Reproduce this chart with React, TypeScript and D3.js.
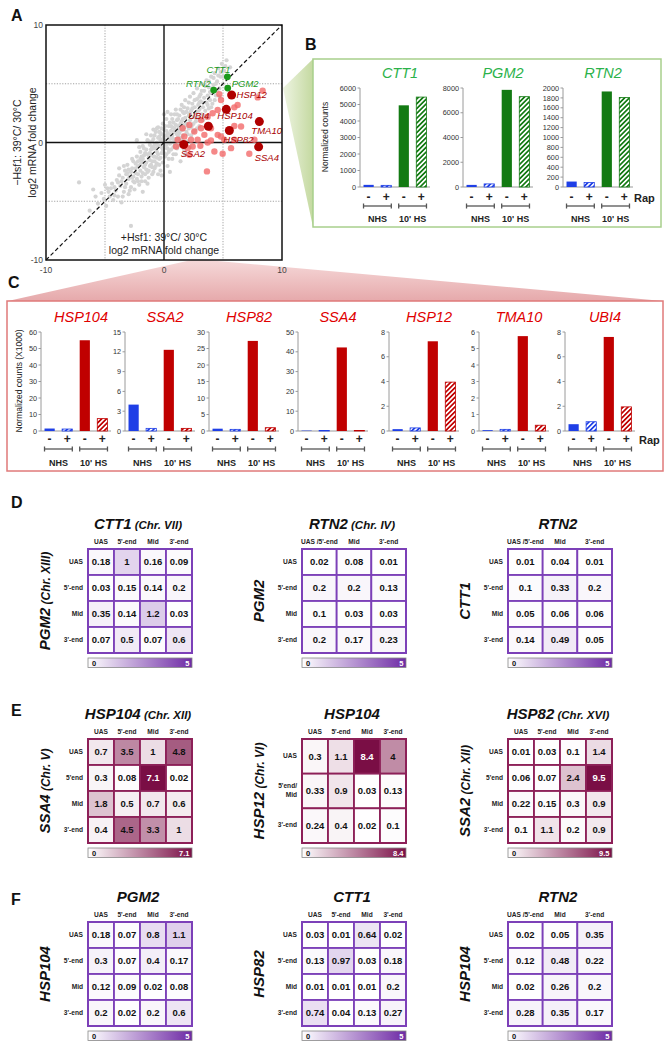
import React from 'react';
import * as d3 from 'd3';

const FONT = 'Arial, "Liberation Sans", Helvetica, sans-serif';

// ---------- Panel A data (log2 fold change: x = +Hsf1, y = -Hsf1) ----------
const grayGenes: [number, number][] = [
  [-7.2,-3.4],[-2.8,-7.1],[-5.1,-4.8],[-5.6,-5.2],[-5.3,-4.3],[-4.9,-5.4],[-4.8,-3.9],[-4.6,-4.6],[-4.4,-3.5],[-4.3,-4.9],
  [-4.1,-4.1],[-4.0,-3.2],[-3.9,-4.6],[-3.8,-2.8],[-3.7,-3.7],[-3.6,-5.1],[-3.5,-3.0],[-3.4,-4.2],[-3.3,-2.4],[-3.2,-3.5],
  [-3.1,-1.9],[-3.0,-4.4],[-2.9,-2.9],[-2.8,-3.8],[-2.7,-2.2],[-2.6,-3.3],[-2.6,-1.6],[-2.5,-4.0],[-2.4,-2.6],[-2.3,-3.1],
  [-2.3,-1.2],[-2.2,-2.0],[-2.1,-3.6],[-2.0,-2.4],[-2.0,-0.8],[-1.9,-1.6],[-1.9,-2.9],[-1.8,-4.2],[-1.8,-0.3],[-1.7,-2.1],
  [-1.7,-1.1],[-1.6,-3.3],[-1.5,-1.7],[-1.5,-0.6],[-1.4,-2.5],[-1.4,0.2],[-1.3,-1.3],[-1.3,-3.0],[-1.2,-0.2],[-1.2,-2.0],
  [-1.1,0.6],[-1.1,-1.0],[-1.0,-2.7],[-1.0,-1.6],[-0.9,-0.5],[-0.9,0.3],[-0.8,-2.2],[-0.8,-1.2],[-0.7,0.9],[-0.7,-0.1],
  [-0.6,-1.8],[-0.6,-0.8],[-0.5,0.4],[-0.5,1.3],[-0.4,-1.4],[-0.4,-0.3],[-0.3,-2.4],[-0.3,0.8],[-0.2,-0.9],[-0.2,0.1],
  [-0.1,1.6],[-0.1,-1.7],[0.0,-0.5],[0.0,0.5],[0.0,1.1],[0.1,-1.2],[0.1,0.2],[0.2,-0.2],[0.2,2.0],[0.3,0.8],
  [0.3,-2.0],[0.4,1.4],[0.4,-0.8],[0.5,0.3],[0.5,-0.1],[0.6,1.0],[0.6,2.4],[0.7,-1.4],[0.7,0.6],[0.8,1.7],
  [0.8,-0.4],[0.9,0.2],[0.9,1.2],[1.0,2.8],[1.0,-1.0],[1.1,0.7],[1.1,1.9],[1.2,-0.3],[1.2,1.4],[1.3,2.3],
  [1.3,0.3],[1.4,-1.6],[1.4,1.0],[1.5,3.2],[1.5,1.8],[1.6,0.6],[1.6,2.6],[1.7,-0.6],[1.7,1.3],[1.8,2.1],
  [1.8,3.6],[1.9,0.9],[1.9,1.6],[2.0,2.9],[2.0,0.1],[2.1,2.3],[2.1,1.2],[2.2,3.9],[2.2,1.9],[2.3,0.6],
  [2.3,2.7],[2.4,3.3],[2.4,1.5],[2.5,2.2],[2.5,4.2],[2.6,1.0],[2.6,3.0],[2.7,2.5],[2.7,1.8],[2.8,3.7],
  [2.8,4.6],[2.9,2.1],[2.9,3.2],[3.0,1.4],[3.0,2.8],[3.1,4.1],[3.1,3.5],[3.2,2.4],[3.2,5.0],[3.3,3.0],
  [3.3,1.9],[3.4,3.8],[3.4,4.4],[3.5,2.7],[3.6,3.4],[3.6,5.3],[3.7,4.0],[3.8,2.9],[3.8,4.7],[3.9,3.6],
  [4.0,5.6],[4.0,4.2],[4.1,3.3],[4.2,4.9],[4.3,5.9],[4.4,4.0],[4.5,5.2],[4.6,6.3],[4.7,4.6],[4.8,5.6],
  [4.9,6.7],[5.0,5.0],[5.1,6.1],[5.3,7.0],[5.4,5.6],[5.6,6.4],
  [-1.6,-0.9],[-1.0,-0.4],[-0.6,0.0],[-0.2,-0.4],[0.2,0.6],[0.6,0.4],[1.0,0.9],[1.4,1.6],[-2.4,-1.8],[-2.8,-2.5],
  [-1.9,-1.2],[-0.8,-1.6],[-0.4,0.5],[0.3,-0.5],[0.8,0.9],[1.2,0.5],[-3.2,-2.7],[-3.6,-3.3],[-1.2,-1.5],[-0.5,-1.0],
  [0.1,1.4],[-0.9,-2.5],[-0.3,-1.3],[1.6,1.1],[2.0,1.5],[0.4,0.0],[-1.5,-2.3],[-2.2,-2.7],[-1.3,0.1],[-0.1,0.3],
  [0.7,1.3],[-2.0,-1.4],[-1.1,-1.9],[-0.7,-0.5],[0.0,-0.9],[0.5,0.7],[0.9,-0.1],[1.3,1.2],[1.7,2.5],[-2.6,-2.9],
  [-3.0,-3.1],[-4.2,-3.8],[-1.8,-2.6],[-0.2,0.7],[0.6,-0.6],[1.1,2.4],[2.5,1.6],[3.0,3.4],[-6.3,-5.8],[-5.8,-4.6],
  [-3.4,-2.0],[-3.0,-2.3],[-2.7,-1.4],[-2.5,-3.4],[-2.2,-1.6],[-2.1,-0.4],[-1.9,-3.3],[-1.7,-0.5],[-1.6,-2.7],[-1.4,-1.0],
  [-1.3,-2.4],[-1.1,-0.6],[-1.0,0.1],[-0.9,-1.2],[-0.8,0.6],[-0.7,-2.0],[-0.6,1.2],[-0.5,-0.3],[-0.4,-1.9],[-0.3,0.2],
  [-0.2,1.2],[-0.1,-0.6],[0.0,2.4],[0.1,-0.2],[0.2,1.0],[0.3,2.6],[0.4,-1.4],[0.5,1.7],[0.6,0.0],[0.7,2.0],
  [0.8,0.3],[0.9,2.4],[1.0,1.5],[1.1,-0.5],[1.2,2.0],[1.3,0.8],[1.4,2.8],[1.5,0.3],[1.6,2.0],[1.7,3.0],
  [1.8,1.4],[1.9,2.6],[2.0,0.7],[2.1,3.4],[2.2,2.5],[2.3,1.3],[2.4,2.9],[2.5,0.9],[2.6,3.6],[2.7,2.1],
  [2.8,1.2],[2.9,2.7],[3.0,3.9],[3.1,2.0],[3.2,4.4],[3.3,3.4],[3.4,2.3],[3.5,4.8],[3.6,2.1],[3.7,3.2],
  [3.8,5.2],[3.9,4.3],[4.0,3.0],[4.1,4.6],[4.2,5.5],[4.3,3.6],[4.4,5.0],[4.5,4.4],[4.6,5.7],[4.7,3.9],
  [4.8,6.0],[5.0,5.6],[5.2,6.5],[-4.5,-3.9],[-4.2,-4.5],[-3.9,-3.4],[-3.5,-4.6],[-3.3,-3.8],[-3.1,-2.6],[-2.9,-4.1],
  [-2.7,-3.0],[-2.4,-2.2],[-2.2,-3.3],[-2.0,-1.9],[-1.8,-1.4],[-1.6,-1.9],[-1.4,-3.5],[-1.2,-0.9],[-1.0,-2.1],[-0.8,-0.2],
  [-0.6,-1.3],[-0.4,0.9],[-0.2,-2.8],[0.0,0.0],[0.2,-1.0],[0.4,0.4],[0.6,1.4],[0.8,-1.0],[1.0,0.3],[1.2,1.0],
  [1.4,0.4],[1.6,1.5],[-5.0,-3.6],[-4.7,-4.2],[-6.0,-4.0],[-3.8,-2.2],[-1.5,0.7],[-0.9,1.1],[-2.3,0.2],[1.8,-1.0],
  [2.2,-0.4],[0.5,-2.5],[-0.5,-2.7]
];
const pinkGenes: [number, number][] = [
  [8.36,4.41],[7.94,3.84],[6.24,3.19],[5.96,2.99],[4.69,4.12],[4.83,3.62],[4.55,2.77],[4.12,2.49],[3.70,2.20],[1.58,1.21],
  [2.15,1.50],[2.57,0.93],[3.14,1.21],[3.42,0.65],[2.85,0.23],[2.29,0.23],[1.72,0.51],[1.16,0.23],[1.02,-0.34],[2.01,-0.48],
  [2.43,-0.34],[2.15,-1.05],[3.08,-0.28],[3.70,0.0],[3.98,0.17],[4.55,0.65],[4.83,0.51],[5.11,0.23],[5.96,0.23],[7.66,0.23],
  [7.23,-0.96],[4.97,-0.96],[3.64,-2.46],[5.68,-0.48],[4.27,-0.76],[5.96,1.41],[6.53,1.36],[3.14,1.92],[3.98,1.21]
];
const hsfNames = ['HSP12', 'HSP104', 'UBI4', 'HSP82', 'TMA10', 'SSA4', 'SSA2'];
const hsfX = [5.73, 5.28, 3.76, 5.54, 8.08, 8.02, 1.67];
const hsfY = [4.04, 2.82, 1.38, 1.02, 1.78, -0.37, -0.17];
const msnNames = ['CTT1', 'PGM2', 'RTN2'];
const msnX = [5.37, 5.40, 4.21];
const msnY = [5.59, 4.63, 4.46];
const axisTicksA = [-10, 0, 10];
const gridTicksA = [-5, 5];

// label placement (layout only)
const labelLayout: Record<string, [number, number, string]> = {
  CTT1: [3, -4, 'end'], RTN2: [-3, -3, 'end'], PGM2: [4, -1, 'start'],
  HSP12: [5, 3, 'start'], HSP104: [-9, 10, 'start'], UBI4: [1, -7, 'end'],
  TMA10: [-8, 12, 'start'], HSP82: [-6, 12, 'start'], SSA2: [-3, 13, 'start'], SSA4: [-4, 14, 'start'],
};

// ---------- Panel B data ----------
const conditionKeys = ['NHS-', 'NHS+', 'HS-', 'HS+'];
const signLabels = ['-', '+', '-', '+'];
const bGenes = ['CTT1', 'PGM2', 'RTN2'];
const bValues = [[130, 100, 4950, 5450], [170, 250, 7850, 7300], [110, 90, 1930, 1810]];
const bMax = [6000, 8000, 2000];
const bStep = [1000, 2000, 200];

// ---------- Panel C data (x1000) ----------
const cGenes = ['HSP104', 'SSA2', 'HSP82', 'SSA4', 'HSP12', 'TMA10', 'UBI4'];
const cValues = [
  [1.5, 1.2, 55, 7.5], [4.0, 0.4, 12.3, 0.4], [0.7, 0.5, 27.3, 1.0], [0.2, 0.3, 42.2, 0.3],
  [0.15, 0.25, 7.25, 3.95], [0.05, 0.1, 5.75, 0.35], [0.55, 0.75, 7.6, 1.95],
];
const cMax = [60, 15, 30, 50, 8, 6, 8];
const cStep = [10, 3, 5, 10, 2, 1, 2];

// ---------- Heatmap data ----------
const cols4 = ['UAS', "5'-end", 'Mid', "3'-end"];
const cols3 = ["UAS /5'-end", 'Mid', "3'-end"];
const rows4 = ['UAS', "5'-end", 'Mid', "3'-end"];
const rowsE = ['UAS', "5'end", 'Mid', "3'-end"];
const rowsE2 = ['UAS', "5'end/\nMid", "3'-end"];

const hmD1 = [[0.18, 1, 0.16, 0.09], [0.03, 0.15, 0.14, 0.2], [0.35, 0.14, 1.2, 0.03], [0.07, 0.5, 0.07, 0.6]];
const hmD2 = [[0.02, 0.08, 0.01], [0.2, 0.2, 0.13], [0.1, 0.03, 0.03], [0.2, 0.17, 0.23]];
const hmD3 = [[0.01, 0.04, 0.01], [0.1, 0.33, 0.2], [0.05, 0.06, 0.06], [0.14, 0.49, 0.05]];
const hmE1 = [[0.7, 3.5, 1, 4.8], [0.3, 0.08, 7.1, 0.02], [1.8, 0.5, 0.7, 0.6], [0.4, 4.5, 3.3, 1]];
const hmE2 = [[0.3, 1.1, 8.4, 4], [0.33, 0.9, 0.03, 0.13], [0.24, 0.4, 0.02, 0.1]];
const hmE3 = [[0.01, 0.03, 0.1, 1.4], [0.06, 0.07, 2.4, 9.5], [0.22, 0.15, 0.3, 0.9], [0.1, 1.1, 0.2, 0.9]];
const hmF1 = [[0.18, 0.07, 0.8, 1.1], [0.3, 0.07, 0.4, 0.17], [0.12, 0.09, 0.02, 0.08], [0.2, 0.02, 0.2, 0.6]];
const hmF2 = [[0.03, 0.01, 0.64, 0.02], [0.13, 0.97, 0.03, 0.18], [0.01, 0.01, 0.01, 0.2], [0.74, 0.04, 0.13, 0.27]];
const hmF3 = [[0.02, 0.05, 0.35], [0.12, 0.48, 0.22], [0.02, 0.26, 0.2], [0.28, 0.35, 0.17]];

const BLUE = '#1f3fe6';
const GREEN = '#137a13';
const RED = '#c00000';
const PURPLE = '#6e2aa5';
const PURPLE_STROKE = '#7c40b8';
const MAROON = '#7a0e45';
const MAROON_STROKE = '#8d2058';

function PanelA() {
  const x = d3.scaleLinear().domain([-10, 10]).range([46, 282]);
  const y = d3.scaleLinear().domain([-10, 10]).range([260, 25]);
  const diag = d3.line<number>().x(v => x(v)).y(v => y(v));
  return (
    <g>
      <rect x={x(-10)} y={y(10)} width={x(10) - x(-10)} height={y(-10) - y(10)} fill="#fff" />
      {gridTicksA.map(v => (
        <g key={'g' + v}>
          <line x1={x(v)} x2={x(v)} y1={y(10)} y2={y(-10)} stroke="#999" strokeWidth={0.9} strokeDasharray="1.2,1.5" />
          <line x1={x(-10)} x2={x(10)} y1={y(v)} y2={y(v)} stroke="#999" strokeWidth={0.9} strokeDasharray="1.2,1.5" />
        </g>
      ))}
      {grayGenes.map((d, i) => (
        <circle key={'gr' + i} cx={x(d[0])} cy={y(d[1])} r={2.1} fill="#d4d4d4" />
      ))}
      <line x1={x(0)} x2={x(0)} y1={y(10)} y2={y(-10)} stroke="#111" strokeWidth={1.4} />
      <line x1={x(-10)} x2={x(10)} y1={y(0)} y2={y(0)} stroke="#111" strokeWidth={1.4} />
      <path d={diag([-10, 10]) || ''} stroke="#111" strokeWidth={1.2} strokeDasharray="4,2.5" fill="none" />
      {pinkGenes.map((d, i) => (
        <circle key={'pk' + i} cx={x(d[0])} cy={y(d[1])} r={3.2} fill="#f26a6a" opacity={0.8} />
      ))}
      {hsfNames.map((n, i) => (
        <circle key={'h' + n} cx={x(hsfX[i])} cy={y(hsfY[i])} r={4.5} fill="#b00000" />
      ))}
      {msnNames.map((n, i) => (
        <circle key={'m' + n} cx={x(msnX[i])} cy={y(msnY[i])} r={3.4} fill="#1a9a1a" />
      ))}
      {hsfNames.map((n, i) => {
        const L = labelLayout[n];
        return (
          <text key={'hl' + n} x={x(hsfX[i]) + L[0]} y={y(hsfY[i]) + L[1]} textAnchor={L[2] as any}
            fontSize={9.5} fontStyle="italic" fill="#a80000">{n}</text>
        );
      })}
      {msnNames.map((n, i) => {
        const L = labelLayout[n];
        return (
          <text key={'ml' + n} x={x(msnX[i]) + L[0]} y={y(msnY[i]) + L[1]} textAnchor={L[2] as any}
            fontSize={9.5} fontStyle="italic" fill="#1c9a1c">{n}</text>
        );
      })}
      <rect x={x(-10)} y={y(10)} width={x(10) - x(-10)} height={y(-10) - y(10)} fill="none" stroke="#111" strokeWidth={1.5} />
      {axisTicksA.map(t => (
        <text key={'yt' + t} x={x(-10) - 3} y={y(t) + 3} textAnchor="end" fontSize={8.5} fill="#444">{t}</text>
      ))}
      {axisTicksA.map(t => (
        <text key={'xt' + t} x={x(t)} y={273} textAnchor="middle" fontSize={8.5} fill="#444">{t}</text>
      ))}
      <text x={x(0)} y={241} textAnchor="middle" fontSize={10.5} fill="#222">+Hsf1: 39°C/ 30°C</text>
      <text x={x(0)} y={254} textAnchor="middle" fontSize={10.5} fill="#222">log2 mRNA fold change</text>
      <text transform={`translate(20.5,${y(0)}) rotate(-90)`} textAnchor="middle" fontSize={10.5} fill="#222">−Hsf1: 39°C/ 30°C</text>
      <text transform={`translate(35.5,${y(0)}) rotate(-90)`} textAnchor="middle" fontSize={10.5} fill="#222">log2 mRNA fold change</text>
    </g>
  );
}

interface BarProps {
  ax: number; top: number; bottom: number; max: number; step: number; values: number[];
  title: string; titleColor: string; hiColor: string; hiPattern: string;
  titleY: number; signY: number; bracketY: number; groupY: number;
}

function BarChart(p: BarProps) {
  const y = d3.scaleLinear().domain([0, p.max]).range([p.bottom, p.top]);
  const xb = d3.scaleBand<string>().domain(conditionKeys).range([p.ax, p.ax + 70]).paddingInner(0.42).paddingOuter(0.2);
  const bw = xb.bandwidth();
  const ticks = d3.range(0, p.max + p.step / 2, p.step);
  const fills = [BLUE, 'url(#hatchBlue)', p.hiColor, `url(#${p.hiPattern})`];
  const strokes = ['none', BLUE, 'none', p.hiColor];
  const groups: [string, string, string][] = [['NHS-', 'NHS+', 'NHS'], ['HS-', 'HS+', "10' HS"]];
  return (
    <g>
      <text x={p.ax + 40} y={p.titleY} textAnchor="middle" fontSize={14.5} fontStyle="italic" fill={p.titleColor}>{p.title}</text>
      <line x1={p.ax} x2={p.ax} y1={p.top} y2={p.bottom} stroke="#9a9a9a" strokeWidth={1} />
      <line x1={p.ax} x2={p.ax + 70} y1={p.bottom} y2={p.bottom} stroke="#9a9a9a" strokeWidth={1} />
      {ticks.map(t => (
        <g key={t}>
          <line x1={p.ax - 2.5} x2={p.ax} y1={y(t)} y2={y(t)} stroke="#9a9a9a" />
          <text x={p.ax - 4} y={y(t) + 2.6} textAnchor="end" fontSize={7.3} fill="#333">{t}</text>
        </g>
      ))}
      {p.values.map((v, i) => (
        <rect key={i} x={xb(conditionKeys[i])} y={y(v)} width={bw} height={p.bottom - y(v)}
          fill={fills[i]} stroke={strokes[i]} strokeWidth={0.8} />
      ))}
      {signLabels.map((s, i) => (
        <text key={'s' + i} x={(xb(conditionKeys[i]) as number) + bw / 2} y={p.signY} textAnchor="middle"
          fontSize={12} fontWeight="bold" fill="#222">{s}</text>
      ))}
      {groups.map(g => {
        const x1 = xb(g[0]) as number;
        const x2 = (xb(g[1]) as number) + bw;
        return (
          <g key={g[2]}>
            <line x1={x1} x2={x2} y1={p.bracketY} y2={p.bracketY} stroke="#555" strokeWidth={1.3} />
            <line x1={x1} x2={x1} y1={p.bracketY - 2.5} y2={p.bracketY + 2.5} stroke="#555" strokeWidth={1.3} />
            <line x1={x2} x2={x2} y1={p.bracketY - 2.5} y2={p.bracketY + 2.5} stroke="#555" strokeWidth={1.3} />
            <text x={(x1 + x2) / 2} y={p.groupY} textAnchor="middle" fontSize={9} fontWeight="bold" fill="#222">{g[2]}</text>
          </g>
        );
      })}
    </g>
  );
}

interface HmProps {
  id: string; left: number; top: number; cols: string[]; rows: string[]; values: number[][];
  max: number; maxLabel: string; maxColor: string; stroke: string;
  title: string; titleSub?: string; yTitle: string; yTitleSub?: string;
}

function Heatmap(p: HmProps) {
  const width = 104, height = 104;
  const x = d3.scaleBand<number>().domain(p.cols.map((_, i) => i)).range([p.left, p.left + width]);
  const y = d3.scaleBand<number>().domain(p.rows.map((_, i) => i)).range([p.top, p.top + height]);
  const color = d3.scaleLinear<string>().domain([0, p.max]).range(['#ffffff', p.maxColor]).interpolate(d3.interpolateRgb);
  const cx = p.left + width / 2;
  const cy = p.top + height / 2;
  const cbY = p.top + height + 5;
  return (
    <g>
      <defs>
        <linearGradient id={p.id} x1="0" x2="1" y1="0" y2="0">
          <stop offset="0" stopColor="#ffffff" />
          <stop offset="1" stopColor={p.maxColor} />
        </linearGradient>
      </defs>
      <text x={cx - 2} y={p.top - 20} textAnchor="middle" fontWeight="bold" fontStyle="italic" fill="#111">
        <tspan fontSize={15}>{p.title}</tspan>
        {p.titleSub ? <tspan fontSize={11.5}>{' ' + p.titleSub}</tspan> : null}
      </text>
      {p.cols.map((c, i) => (
        <text key={'c' + i} x={(x(i) as number) + x.bandwidth() / 2} y={p.top - 5} textAnchor="middle"
          fontSize={6.6} fontWeight="bold" fill="#222">{c}</text>
      ))}
      {p.rows.map((r, i) => {
        const lines = r.split('\n');
        const my = (y(i) as number) + y.bandwidth() / 2;
        return (
          <text key={'r' + i} x={p.left - 5} y={my + 1.5 - (lines.length - 1) * 4.2} textAnchor="end"
            fontSize={6.6} fontWeight="bold" fill="#222">
            {lines.map((l, j) => <tspan key={j} x={p.left - 5} dy={j === 0 ? 0 : 8.5}>{l}</tspan>)}
          </text>
        );
      })}
      <text transform={`translate(${p.left - 38},${cy}) rotate(-90)`} textAnchor="middle"
        fontWeight="bold" fontStyle="italic" fill="#111">
        <tspan fontSize={15}>{p.yTitle}</tspan>
        {p.yTitleSub ? <tspan fontSize={12}>{' ' + p.yTitleSub}</tspan> : null}
      </text>
      {p.values.map((row, ri) => row.map((v, ci) => (
        <g key={ri + '-' + ci}>
          <rect x={x(ci)} y={y(ri)} width={x.bandwidth()} height={y.bandwidth()} fill={color(v)} stroke={p.stroke} strokeWidth={1.8} />
          <text x={(x(ci) as number) + x.bandwidth() / 2} y={(y(ri) as number) + y.bandwidth() / 2 + 3.4}
            textAnchor="middle" fontSize={9.5} fontWeight="bold" fill={v / p.max > 0.72 ? '#fff' : '#111'}>{v}</text>
        </g>
      )))}
      <rect x={p.left} y={p.top} width={width} height={height} fill="none" stroke={p.stroke} strokeWidth={2} />
      <rect x={p.left} y={cbY} width={width} height={9.5} fill={`url(#${p.id})`} stroke="#888" strokeWidth={0.8} />
      <text x={p.left + 4} y={cbY + 7.5} fontSize={7.5} fontWeight="bold" fill="#111">0</text>
      <text x={p.left + width - 2.5} y={cbY + 7.5} textAnchor="end" fontSize={7.5} fontWeight="bold" fill="#fff">{p.maxLabel}</text>
    </g>
  );
}

const bAxes = [360, 463, 563];
const cAxes = [41, 125, 209, 298, 389, 479, 565];
const hmLefts = [88, 302, 508];

export default function App() {
  return (
    <svg width={671} height={1050} viewBox="0 0 671 1050"
      style={{ position: 'absolute', left: 0, top: 0, background: '#fff', fontFamily: FONT }}>
      <defs>
        <pattern id="hatchBlue" patternUnits="userSpaceOnUse" width={3.4} height={3.4} patternTransform="rotate(45)">
          <rect width={3.4} height={3.4} fill="#fff" />
          <rect width={1.7} height={3.4} fill={BLUE} />
        </pattern>
        <pattern id="hatchGreen" patternUnits="userSpaceOnUse" width={3.4} height={3.4} patternTransform="rotate(45)">
          <rect width={3.4} height={3.4} fill="#fff" />
          <rect width={1.7} height={3.4} fill={GREEN} />
        </pattern>
        <pattern id="hatchRed" patternUnits="userSpaceOnUse" width={3.4} height={3.4} patternTransform="rotate(45)">
          <rect width={3.4} height={3.4} fill="#fff" />
          <rect width={1.7} height={3.4} fill={RED} />
        </pattern>
        <linearGradient id="wedgeGreen" x1="0" x2="1" y1="0" y2="0">
          <stop offset="0" stopColor="#eef4e2" />
          <stop offset="1" stopColor="#c4d9a0" />
        </linearGradient>
        <linearGradient id="wedgePink" x1="0" x2="0" y1="0" y2="1">
          <stop offset="0" stopColor="#f6dada" />
          <stop offset="1" stopColor="#e6a9ab" />
        </linearGradient>
      </defs>
      <rect x={0} y={0} width={671} height={1050} fill="#fff" />
      <polygon points="283,88 313,59 313,227" fill="url(#wedgeGreen)" />
      <polygon points="196,259 663,301 8,301" fill="url(#wedgePink)" />

      <text x={11} y={21} fontSize={16} fontWeight="bold" fill="#111">A</text>
      <text x={305} y={50} fontSize={16} fontWeight="bold" fill="#111">B</text>
      <text x={8} y={288} fontSize={16} fontWeight="bold" fill="#111">C</text>
      <text x={11} y={508} fontSize={16} fontWeight="bold" fill="#111">D</text>
      <text x={11} y={716} fontSize={16} fontWeight="bold" fill="#111">E</text>
      <text x={11} y={905} fontSize={16} fontWeight="bold" fill="#111">F</text>

      <PanelA />

      <rect x={313} y={59} width={348} height={168} fill="#fff" stroke="#a8cf8c" strokeWidth={1.5} />
      <text transform="translate(328,137) rotate(-90)" textAnchor="middle" fontSize={8.5} fill="#222">Normalized counts</text>
      {bGenes.map((g, i) => (
        <BarChart key={g} ax={bAxes[i]} top={88} bottom={187} max={bMax[i]} step={bStep[i]} values={bValues[i]}
          title={g} titleColor="#2bb24a" hiColor={GREEN} hiPattern="hatchGreen"
          titleY={78} signY={201} bracketY={206} groupY={222} />
      ))}
      <text x={634} y={202} fontSize={11} fontWeight="bold" fill="#222">Rap</text>

      <rect x={7} y={301} width={656} height={170} fill="#fff" stroke="#e07a7a" strokeWidth={1.5} />
      <text transform="translate(22,381) rotate(-90)" textAnchor="middle" fontSize={8.5} fill="#222">Normalized counts (X1000)</text>
      {cGenes.map((g, i) => (
        <BarChart key={g} ax={cAxes[i]} top={332} bottom={431} max={cMax[i]} step={cStep[i]} values={cValues[i]}
          title={g} titleColor="#e00000" hiColor={RED} hiPattern="hatchRed"
          titleY={322} signY={443} bracketY={449} groupY={466} />
      ))}
      <text x={639} y={444} fontSize={11} fontWeight="bold" fill="#222">Rap</text>

      <Heatmap id="gD1" left={hmLefts[0]} top={549} cols={cols4} rows={rows4} values={hmD1} max={5} maxLabel="5"
        maxColor={PURPLE} stroke={PURPLE_STROKE} title="CTT1" titleSub="(Chr. VII)" yTitle="PGM2" yTitleSub="(Chr. XIII)" />
      <Heatmap id="gD2" left={hmLefts[1]} top={549} cols={cols3} rows={rows4} values={hmD2} max={5} maxLabel="5"
        maxColor={PURPLE} stroke={PURPLE_STROKE} title="RTN2" titleSub="(Chr. IV)" yTitle="PGM2" />
      <Heatmap id="gD3" left={hmLefts[2]} top={549} cols={cols3} rows={rows4} values={hmD3} max={5} maxLabel="5"
        maxColor={PURPLE} stroke={PURPLE_STROKE} title="RTN2" yTitle="CTT1" />

      <Heatmap id="gE1" left={hmLefts[0]} top={739} cols={cols4} rows={rowsE} values={hmE1} max={7.1} maxLabel="7.1"
        maxColor={MAROON} stroke={MAROON_STROKE} title="HSP104" titleSub="(Chr. XII)" yTitle="SSA4" yTitleSub="(Chr. V)" />
      <Heatmap id="gE2" left={hmLefts[1]} top={739} cols={cols4} rows={rowsE2} values={hmE2} max={8.4} maxLabel="8.4"
        maxColor={MAROON} stroke={MAROON_STROKE} title="HSP104" yTitle="HSP12" yTitleSub="(Chr. VI)" />
      <Heatmap id="gE3" left={hmLefts[2]} top={739} cols={cols4} rows={rowsE} values={hmE3} max={9.5} maxLabel="9.5"
        maxColor={MAROON} stroke={MAROON_STROKE} title="HSP82" titleSub="(Chr. XVI)" yTitle="SSA2" yTitleSub="(Chr. XII)" />

      <Heatmap id="gF1" left={hmLefts[0]} top={922} cols={cols4} rows={rows4} values={hmF1} max={5} maxLabel="5"
        maxColor={PURPLE} stroke={PURPLE_STROKE} title="PGM2" yTitle="HSP104" />
      <Heatmap id="gF2" left={hmLefts[1]} top={922} cols={cols4} rows={rows4} values={hmF2} max={5} maxLabel="5"
        maxColor={PURPLE} stroke={PURPLE_STROKE} title="CTT1" yTitle="HSP82" />
      <Heatmap id="gF3" left={hmLefts[2]} top={922} cols={cols3} rows={rows4} values={hmF3} max={5} maxLabel="5"
        maxColor={PURPLE} stroke={PURPLE_STROKE} title="RTN2" yTitle="HSP104" />
    </svg>
  );
}
